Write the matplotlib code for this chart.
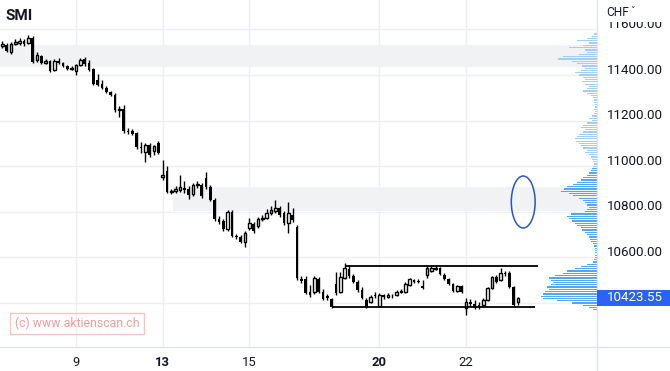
import matplotlib
matplotlib.use('Agg')
import matplotlib.pyplot as plt
from matplotlib.patches import Rectangle, Ellipse
from matplotlib.lines import Line2D
from matplotlib.transforms import blended_transform_factory, ScaledTranslation
import numpy as np

plt.rcParams['font.family'] = ['Roboto', 'DejaVu Sans']

# ---- data: SMI, Sept 2022, bars (open, high, low, close) ----
sep07 = [(11527, 11549, 11518, 11536), (11532, 11540, 11501, 11505), (11501, 11545, 11492, 11536),
         (11536, 11558, 11532, 11545), (11540, 11562, 11532, 11549), (11549, 11558, 11527, 11536),
         (11540, 11575, 11536, 11562)]
sep08 = [(11562, 11571, 11453, 11457), (11466, 11501, 11457, 11488), (11483, 11488, 11448, 11453),
         (11453, 11470, 11448, 11462), (11462, 11466, 11413, 11418), (11422, 11470, 11418, 11462),
         (11462, 11475, 11448, 11453), (11453, 11457, 11435, 11440), (11440, 11444, 11422, 11426),
         (11426, 11440, 11422, 11431)]
sep09 = [(11418, 11448, 11400, 11444), (11444, 11475, 11440, 11466), (11470, 11479, 11440, 11448),
         (11453, 11466, 11418, 11422), (11426, 11431, 11356, 11361), (11378, 11404, 11352, 11356),
         (11361, 11378, 11339, 11343), (11343, 11352, 11321, 11326), (11326, 11330, 11308, 11312),
         (11312, 11321, 11238, 11247)]
sep12 = [(11247, 11264, 11216, 11251), (11251, 11268, 11146, 11154), (11154, 11168, 11141, 11150),
         (11154, 11163, 11137, 11141), (11146, 11150, 11076, 11084), (11084, 11106, 11058, 11080),
         (11062, 11102, 11018, 11093), (11093, 11102, 11040, 11049), (11067, 11093, 11049, 11089),
         (11102, 11111, 11054, 11058)]
sep13 = [(10953, 11027, 10940, 10961), (10979, 11001, 10883, 10887), (10887, 10900, 10878, 10891),
         (10891, 10913, 10883, 10900), (10896, 10961, 10887, 10909), (10904, 10935, 10883, 10896),
         (10900, 10913, 10856, 10874), (10878, 10926, 10869, 10918), (10918, 10935, 10904, 10922),
         (10918, 10926, 10861, 10869)]
sep14 = [(10948, 10975, 10900, 10909), (10909, 10918, 10847, 10852), (10852, 10861, 10760, 10768),
         (10768, 10782, 10747, 10755), (10760, 10768, 10716, 10725), (10725, 10808, 10716, 10799),
         (10799, 10808, 10690, 10694), (10694, 10703, 10681, 10690), (10690, 10698, 10663, 10668),
         (10668, 10716, 10646, 10707)]
sep15 = [(10729, 10773, 10720, 10751), (10747, 10755, 10707, 10716), (10738, 10777, 10729, 10768),
         (10768, 10786, 10760, 10773), (10773, 10812, 10768, 10795), (10795, 10825, 10786, 10808),
         (10804, 10852, 10795, 10817), (10817, 10825, 10777, 10786), (10795, 10804, 10742, 10751),
         (10751, 10843, 10707, 10795)]
sep16 = [(10786, 10817, 10755, 10764), (10733, 10742, 10501, 10510), (10505, 10518, 10488, 10497),
         (10505, 10518, 10440, 10444), (10448, 10479, 10426, 10435), (10448, 10518, 10440, 10510),
         (10505, 10514, 10444, 10448), (10448, 10461, 10413, 10418), (10431, 10440, 10413, 10422),
         (10418, 10422, 10378, 10382)]
sep19 = [(10483, 10536, 10435, 10444), (10448, 10536, 10444, 10514), (10510, 10576, 10505, 10554),
         (10549, 10567, 10510, 10518), (10518, 10527, 10488, 10492), (10492, 10501, 10448, 10457),
         (10457, 10470, 10418, 10422), (10413, 10422, 10378, 10382), (10405, 10435, 10400, 10426),
         (10435, 10448, 10422, 10431)]
sep20 = [(10387, 10444, 10382, 10435), (10435, 10440, 10418, 10426), (10426, 10444, 10422, 10435),
         (10431, 10440, 10422, 10429), (10435, 10457, 10431, 10448), (10448, 10461, 10444, 10453),
         (10448, 10492, 10444, 10483), (10479, 10510, 10475, 10505), (10501, 10505, 10488, 10492),
         (10497, 10505, 10488, 10492)]
sep21 = [(10475, 10501, 10461, 10466), (10523, 10567, 10510, 10554), (10540, 10562, 10536, 10554),
         (10549, 10567, 10545, 10554), (10554, 10558, 10523, 10527), (10523, 10532, 10501, 10505),
         (10505, 10510, 10479, 10483), (10483, 10488, 10448, 10453), (10453, 10479, 10448, 10475),
         (10475, 10479, 10444, 10448)]
sep22 = [(10378, 10422, 10348, 10405), (10405, 10418, 10387, 10396), (10396, 10413, 10374, 10378),
         (10391, 10405, 10374, 10378), (10391, 10422, 10387, 10413), (10413, 10470, 10409, 10466),
         (10466, 10518, 10461, 10514), (10514, 10523, 10488, 10492), (10501, 10554, 10497, 10532),
         (10532, 10540, 10518, 10527)]
sep23 = [(10532, 10540, 10466, 10470), (10470, 10475, 10387, 10391), (10405, 10426, 10391, 10423.55)]

day_names = ['7', '8', '9', '12', '13', '14', '15', '16', '19', '20', '21', '22', '23']
day_bars = [sep07, sep08, sep09, sep12, sep13, sep14, sep15, sep16, sep19, sep20, sep21, sep22, sep23]
bars_per_day = 10
first_day_hidden = 3          # bars of Sept 7 before the left edge
tick_days = ['9', '13', '15', '20', '22']
bold_days = ['13', '20']

last_price = 10423.55
price_ticks = [10400, 10600, 10800, 11000, 11200, 11400, 11600]

# grey zones (low, high, start bar)
zone_lows = [11435, 10804]
zone_highs = [11532, 10909]
zone_starts = [-1.0, 39.4]

# horizontal channel (price, start bar, end bar)
channel_prices = [10562, 10382]
channel_starts = [79.1, 76.3]
channel_ends = [123.7, 123.0]

# marker ellipse (bar, price, width in bars, height in points)
ellipse_bar, ellipse_price, ellipse_w, ellipse_h = 120.2, 10843, 5.5, 228

# volume profile (price levels, relative volume)
profile_levels = list(range(10370, 11590, 10))
profile_vols = [4, 8, 14, 25, 40, 54, 56, 54, 52, 48,
                50, 46, 44, 46, 48, 42, 34, 30, 22, 16,
                10, 4, 3, 2, 2, 2, 2, 2, 3, 4,
                6, 7, 8, 10, 12, 15, 16, 20, 22, 25,
                28, 30, 26, 12, 10, 8, 10, 12, 14, 18,
                24, 28, 36, 33, 30, 24, 20, 16, 14, 10,
                8, 6, 5, 4, 3, 4, 5, 6, 8, 12,
                10, 14, 16, 18, 21, 22, 20, 18, 14, 12,
                16, 14, 10, 5, 8, 5, 3, 2, 3, 2,
                2, 3, 3, 4, 6, 10, 14, 10, 8, 12,
                15, 12, 14, 18, 22, 16, 12, 15, 20, 25,
                39, 34, 18, 10, 12, 28, 14, 8, 20, 10,
                5, 3]

# ---- figure ----
W, H = 670, 371
PX_R, PX_B = 597, 347
fig = plt.figure(figsize=(W / 100, H / 100), dpi=100)
fig.patch.set_facecolor('white')
ax = fig.add_axes([0, (H - PX_B) / H, PX_R / W, PX_B / H])

o, h, l, c = [], [], [], []
xs = []
day_start = {}
pos = -first_day_hidden
for name, bars in zip(day_names, day_bars):
    day_start[name] = pos
    start_k = first_day_hidden if name == '7' else 0
    for k, (bo, bh, bl, bc) in enumerate(bars):
        xs.append(pos + start_k + k)
        o.append(bo); h.append(bh); l.append(bl); c.append(bc)
    pos += bars_per_day
xs = np.array(xs, float); o = np.array(o); h = np.array(h); l = np.array(l); c = np.array(c)

bar_px = 43.33 / bars_per_day
x_left = -2.4 / bar_px
x_right = x_left + PX_R / bar_px
ax.set_xlim(x_left, x_right)
y_top = 11729
y_bot = y_top - 4.386 * PX_B
ax.set_ylim(y_bot, y_top)

for s in ax.spines.values():
    s.set_visible(False)
ax.set_yticks(price_ticks)
ax.set_xticks([day_start[d] for d in tick_days])
ax.tick_params(length=0, labelleft=False, labelbottom=False)
ax.grid(True, color='#eeeff2', lw=1)
ax.set_axisbelow(True)

# zones
for lo, hi, st in zip(zone_lows, zone_highs, zone_starts):
    ax.add_patch(Rectangle((st, lo), x_right - st + 5, hi - lo, facecolor='#f1f2f4',
                           edgecolor='none', zorder=1))

# candles
up = c >= o
ax.vlines(xs, l, h, color='black', lw=1, zorder=3)
body_lo = np.minimum(o, c)
body_h = np.maximum(np.abs(c - o), 3)
ax.bar(xs[~up], body_h[~up], bottom=body_lo[~up], width=0.65, color='black', lw=0, zorder=4)
ax.bar(xs[up], body_h[up], bottom=body_lo[up], width=0.65, facecolor='white',
       edgecolor='black', lw=1.0, zorder=4)

# channel
for p, s0, s1 in zip(channel_prices, channel_starts, channel_ends):
    ax.plot([s0, s1], [p, p], color='black', lw=1.3, zorder=5, solid_capstyle='butt')

ax.add_patch(Ellipse((ellipse_bar, ellipse_price), ellipse_w, ellipse_h, fill=False,
                     edgecolor='#2a55c9', lw=1.1, zorder=5))

# volume profile
ax2 = fig.add_axes(ax.get_position(), frameon=False)
ax2.set_ylim(y_bot, y_top)
ax2.set_xlim(PX_R, 0)
cols = ['#9fcdf3' if lv >= 11000 else '#55a6ea' for lv in profile_levels]
ax2.barh(profile_levels, profile_vols, height=5.5, color=cols, lw=0)
ax2.axis('off')

# y labels on the right
tr = blended_transform_factory(ax.transAxes, ax.transData) + \
    ScaledTranslation(0, 3.6 / 72, fig.dpi_scale_trans)
for p in price_ticks:
    ax.text(1 + 10 / PX_R, p, f'{p:.2f}', transform=tr, ha='left', va='center',
            fontsize=9.6, color='#131722', clip_on=False)

# x labels
trx = blended_transform_factory(ax.transData, ax.transAxes)
for d in tick_days:
    ax.text(day_start[d], -15 / PX_B, d, transform=trx, ha='center', va='center',
            fontsize=9.4, color='#131722', fontweight='bold' if d in bold_days else 'normal')

# figure decorations (currency header partly covers the top scale label)
fig.add_artist(Rectangle(((PX_R + 1) / W, 1 - 22 / H), (W - PX_R) / W, 22 / H,
                         transform=fig.transFigure, facecolor='white', edgecolor='none', zorder=5))
fig.text(606 / W, 1 - 12 / H, 'CHF', fontsize=8.6, color='#131722', va='center', ha='left', zorder=6)
fig.text(632 / W, 1 - 11 / H, '˅', fontsize=6.5, color='#131722', va='center', ha='center', zorder=6,
         family=['DejaVu Sans'])
fig.text(5 / W, 1 - 16 / H, 'SMI', fontsize=11, fontweight='bold', color='#131722',
         va='center', ha='left', zorder=6)

fig.add_artist(Line2D([PX_R / W, PX_R / W], [0, 1], transform=fig.transFigure,
                      color='#e0e3eb', lw=1, zorder=4))
fig.add_artist(Line2D([0, 1], [1 - PX_B / H, 1 - PX_B / H], transform=fig.transFigure,
                      color='#e0e3eb', lw=1, zorder=4))

# last price tag
ly = ax.transData.transform((0, last_price))[1]
fig.add_artist(Rectangle((PX_R / W, (ly - 8) / H), (W - PX_R) / W, 16 / H,
                         transform=fig.transFigure, facecolor='#2962ff', edgecolor='none', zorder=5))
fig.text(607 / W, ly / H, f'{last_price:.2f}', fontsize=9.6, color='white', va='center',
         ha='left', zorder=6)

# watermark
fig.add_artist(Rectangle((10 / W, 1 - 334 / H), 134 / W, 21 / H, transform=fig.transFigure,
                         facecolor='none', edgecolor='#f6c4c4', lw=1, zorder=5))
fig.text(77 / W, 1 - 323.5 / H, '(c) www.aktienscan.ch', fontsize=8.8, color='#f09c9c',
         va='center', ha='center', zorder=6)

fig.savefig('out.png', dpi=100)
